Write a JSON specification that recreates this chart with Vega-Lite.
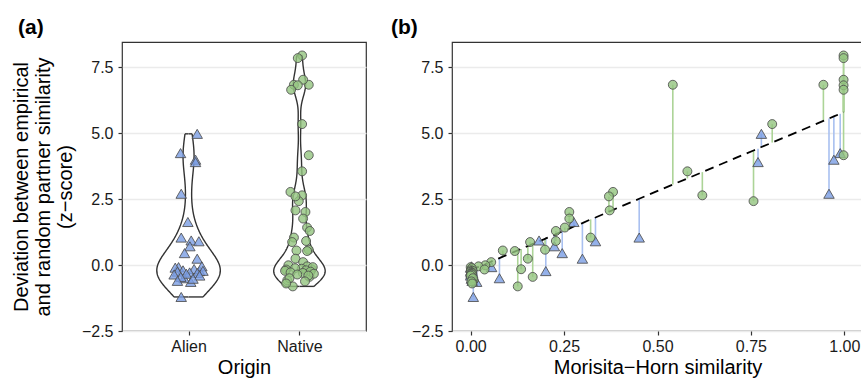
{
  "$schema": "https://vega.github.io/schema/vega-lite/v6.json",
  "autosize": {"type": "none"},
  "padding": {"left": 122, "top": 42, "right": 739, "bottom": 336},
  "background": "white",
  "config": {
    "font": "Liberation Sans",
    "view": {"stroke": "#333333", "strokeWidth": 1.2},
    "axis": {"labelFont": "Liberation Sans", "labelFontSize": 16, "labelColor": "#1a1a1a", "titleFont": "Liberation Sans", "titleFontSize": 20, "titleFontWeight": "normal", "titleColor": "#000000", "tickColor": "#333333", "tickSize": 4, "tickWidth": 1.2, "domain": false, "grid": false},
    "axisY": {"grid": true, "gridColor": "#ebebeb", "gridWidth": 1.4, "labelPadding": 5},
    "axisX": {"labelPadding": 3.5},
    "title": {"font": "Liberation Sans", "fontSize": 21, "fontWeight": "bold", "color": "#000000", "anchor": "start", "frame": "group", "baseline": "alphabetic", "offset": 4}
  },
  "datasets": {
    "pts": [
      {"o": "Alien", "mh": 0.778, "z": 4.97, "fit": 4.47, "j": 0.078},
      {"o": "Alien", "mh": 0.989, "z": 4.24, "fit": 5.73, "j": -0.072},
      {"o": "Alien", "mh": 0.972, "z": 3.99, "fit": 5.63, "j": 0.063},
      {"o": "Alien", "mh": 0.769, "z": 3.90, "fit": 4.41, "j": 0.063},
      {"o": "Alien", "mh": 0.959, "z": 2.70, "fit": 5.55, "j": -0.066},
      {"o": "Alien", "mh": 0.276, "z": 1.63, "fit": 1.46, "j": -0.006},
      {"o": "Alien", "mh": 0.451, "z": 1.04, "fit": 2.51, "j": -0.066},
      {"o": "Alien", "mh": 0.183, "z": 0.93, "fit": 0.90, "j": 0.024},
      {"o": "Alien", "mh": 0.334, "z": 0.90, "fit": 1.80, "j": 0.093},
      {"o": "Alien", "mh": 0.224, "z": 0.71, "fit": 1.14, "j": 0.012},
      {"o": "Alien", "mh": 0.245, "z": 0.45, "fit": 1.27, "j": -0.036},
      {"o": "Alien", "mh": 0.299, "z": 0.24, "fit": 1.59, "j": 0.078},
      {"o": "Alien", "mh": 0.056, "z": -0.08, "fit": 0.14, "j": -0.09},
      {"o": "Alien", "mh": 0.201, "z": -0.23, "fit": 1.01, "j": 0.10},
      {"o": "Alien", "mh": 0.077, "z": -0.50, "fit": 0.26, "j": -0.04},
      {"o": "Alien", "mh": 0.016, "z": -0.64, "fit": -0.10, "j": 0.02},
      {"o": "Alien", "mh": 0.007, "z": -1.21, "fit": -0.16, "j": -0.066},
      {"o": "Alien", "mh": 0.002, "z": -0.05, "fit": -0.19, "j": 0.12},
      {"o": "Alien", "mh": 0.000, "z": -0.10, "fit": -0.20, "j": -0.12},
      {"o": "Alien", "mh": 0.003, "z": -0.15, "fit": -0.18, "j": 0.05},
      {"o": "Alien", "mh": 0.001, "z": -0.20, "fit": -0.19, "j": -0.05},
      {"o": "Alien", "mh": 0.004, "z": -0.22, "fit": -0.18, "j": 0.13},
      {"o": "Alien", "mh": 0.000, "z": -0.25, "fit": -0.20, "j": -0.10},
      {"o": "Alien", "mh": 0.002, "z": -0.28, "fit": -0.19, "j": 0.01},
      {"o": "Alien", "mh": 0.005, "z": -0.30, "fit": -0.17, "j": 0.08},
      {"o": "Alien", "mh": 0.001, "z": -0.33, "fit": -0.19, "j": -0.02},
      {"o": "Alien", "mh": 0.003, "z": -0.36, "fit": -0.18, "j": -0.13},
      {"o": "Alien", "mh": 0.000, "z": -0.40, "fit": -0.20, "j": 0.10},
      {"o": "Alien", "mh": 0.006, "z": -0.45, "fit": -0.16, "j": -0.07},
      {"o": "Alien", "mh": 0.002, "z": -0.52, "fit": -0.19, "j": 0.04},
      {"o": "Alien", "mh": 0.004, "z": -0.60, "fit": -0.18, "j": -0.10},
      {"o": "Native", "mh": 0.541, "z": 6.83, "fit": 3.05, "j": -0.05},
      {"o": "Native", "mh": 0.580, "z": 3.55, "fit": 3.28, "j": 0.024},
      {"o": "Native", "mh": 0.620, "z": 2.64, "fit": 3.52, "j": 0.024},
      {"o": "Native", "mh": 0.757, "z": 2.42, "fit": 4.34, "j": -0.006},
      {"o": "Native", "mh": 0.807, "z": 5.34, "fit": 4.64, "j": 0.024},
      {"o": "Native", "mh": 0.944, "z": 6.83, "fit": 5.46, "j": 0.084},
      {"o": "Native", "mh": 0.998, "z": 7.94, "fit": 5.79, "j": 0.024},
      {"o": "Native", "mh": 0.998, "z": 7.84, "fit": 5.79, "j": -0.015},
      {"o": "Native", "mh": 0.998, "z": 7.02, "fit": 5.79, "j": 0.033},
      {"o": "Native", "mh": 0.998, "z": 6.81, "fit": 5.79, "j": -0.015},
      {"o": "Native", "mh": 0.998, "z": 6.64, "fit": 5.79, "j": -0.075},
      {"o": "Native", "mh": 0.998, "z": 4.16, "fit": 5.79, "j": 0.084},
      {"o": "Native", "mh": 0.381, "z": 2.77, "fit": 2.09, "j": -0.081},
      {"o": "Native", "mh": 0.370, "z": 2.60, "fit": 2.02, "j": -0.036},
      {"o": "Native", "mh": 0.372, "z": 2.07, "fit": 2.03, "j": -0.036},
      {"o": "Native", "mh": 0.264, "z": 2.01, "fit": 1.38, "j": 0.054},
      {"o": "Native", "mh": 0.264, "z": 1.76, "fit": 1.38, "j": 0.033},
      {"o": "Native", "mh": 0.252, "z": 1.42, "fit": 1.31, "j": 0.069},
      {"o": "Native", "mh": 0.228, "z": 1.29, "fit": 1.17, "j": 0.093},
      {"o": "Native", "mh": 0.228, "z": 0.91, "fit": 1.17, "j": 0.06},
      {"o": "Native", "mh": 0.199, "z": 0.58, "fit": 0.99, "j": 0.084},
      {"o": "Native", "mh": 0.321, "z": 1.04, "fit": 1.73, "j": -0.05},
      {"o": "Native", "mh": 0.159, "z": 0.87, "fit": 0.75, "j": -0.066},
      {"o": "Native", "mh": 0.086, "z": 0.55, "fit": 0.32, "j": -0.027},
      {"o": "Native", "mh": 0.118, "z": 0.53, "fit": 0.51, "j": 0.069},
      {"o": "Native", "mh": 0.153, "z": 0.24, "fit": 0.72, "j": -0.036},
      {"o": "Native", "mh": 0.135, "z": -0.16, "fit": 0.61, "j": 0.11},
      {"o": "Native", "mh": 0.126, "z": -0.81, "fit": 0.56, "j": -0.06},
      {"o": "Native", "mh": 0.166, "z": -0.45, "fit": 0.80, "j": 0.09},
      {"o": "Native", "mh": 0.055, "z": 0.11, "fit": 0.13, "j": 0.033},
      {"o": "Native", "mh": 0.039, "z": -0.01, "fit": 0.03, "j": -0.10},
      {"o": "Native", "mh": 0.021, "z": -0.05, "fit": -0.07, "j": 0.07},
      {"o": "Native", "mh": 0.037, "z": -0.17, "fit": 0.02, "j": -0.12},
      {"o": "Native", "mh": 0.002, "z": -0.14, "fit": -0.19, "j": 0.02},
      {"o": "Native", "mh": 0.008, "z": -0.58, "fit": -0.15, "j": -0.11},
      {"o": "Native", "mh": 0.000, "z": -0.08, "fit": -0.20, "j": 0.12},
      {"o": "Native", "mh": 0.003, "z": -0.12, "fit": -0.18, "j": -0.04},
      {"o": "Native", "mh": 0.001, "z": -0.20, "fit": -0.19, "j": 0.06},
      {"o": "Native", "mh": 0.005, "z": -0.22, "fit": -0.17, "j": -0.13},
      {"o": "Native", "mh": 0.000, "z": -0.25, "fit": -0.20, "j": 0.10},
      {"o": "Native", "mh": 0.002, "z": -0.28, "fit": -0.19, "j": -0.08},
      {"o": "Native", "mh": 0.004, "z": -0.30, "fit": -0.18, "j": 0.03},
      {"o": "Native", "mh": 0.001, "z": -0.33, "fit": -0.19, "j": 0.13},
      {"o": "Native", "mh": 0.003, "z": -0.36, "fit": -0.18, "j": -0.02},
      {"o": "Native", "mh": 0.000, "z": -0.40, "fit": -0.20, "j": 0.08},
      {"o": "Native", "mh": 0.006, "z": -0.50, "fit": -0.16, "j": -0.09},
      {"o": "Native", "mh": 0.002, "z": -0.62, "fit": -0.19, "j": 0.05},
      {"o": "Native", "mh": 0.004, "z": -0.70, "fit": -0.18, "j": -0.12}
    ]
  },
  "spacing": 86,
  "bounds": "flush",
  "hconcat": [
    {
      "width": 244,
      "height": 289,
      "title": {"text": "(a)", "dx": -104},
      "data": {"name": "pts"},
      "encoding": {
        "y": {"field": "z", "type": "quantitative", "scale": {"domain": [-2.5, 8.45], "nice": false, "zero": false},
          "axis": {"values": [-2.5, 0, 2.5, 5, 7.5], "format": ".1f", "title": ["Deviation between empirical", "and random partner similarity", "(z−score)"], "titleX": -94.5, "titleBaseline": "alphabetic", "titleLineHeight": 22}}
      },
      "layer": [
        {
          "transform": [{"filter": "datum.o === 'Alien'"}, {"density": "z", "bandwidth": 0.7, "extent": [-1.21, 4.97], "steps": 200, "as": ["z", "density"]}],
          "layer": [
            {"mark": {"type": "area", "orient": "horizontal", "fill": "white"}, "encoding": {"x": {"field": "density", "type": "quantitative", "scale": {"domain": [-0.7829, 2.0876], "nice": false, "zero": false}, "axis": null}, "x2": {"datum": 0}}},
            {"mark": {"type": "line", "color": "#333333", "strokeWidth": 1.4}, "encoding": {"x": {"field": "density", "type": "quantitative"}, "order": {"field": "z", "type": "quantitative"}}},
            {"transform": [{"joinaggregate": [{"op": "min", "field": "z", "as": "zmin"}, {"op": "max", "field": "z", "as": "zmax"}]}, {"filter": "datum.z === datum.zmin || datum.z === datum.zmax"}],
             "mark": {"type": "rule", "color": "#333333", "strokeWidth": 1.4}, "encoding": {"x": {"field": "density", "type": "quantitative"}, "x2": {"datum": 0}}}
          ]
        },
        {
          "transform": [{"filter": "datum.o === 'Alien'"}, {"density": "z", "bandwidth": 0.7, "extent": [-1.21, 4.97], "steps": 200, "as": ["z", "density"]}],
          "layer": [
            {"mark": {"type": "area", "orient": "horizontal", "fill": "white"}, "encoding": {"x": {"field": "density", "type": "quantitative", "scale": {"domain": [-2.0876, 0.7829], "reverse": true, "nice": false, "zero": false}, "axis": null}, "x2": {"datum": 0}}},
            {"mark": {"type": "line", "color": "#333333", "strokeWidth": 1.4}, "encoding": {"x": {"field": "density", "type": "quantitative"}, "order": {"field": "z", "type": "quantitative"}}},
            {"transform": [{"joinaggregate": [{"op": "min", "field": "z", "as": "zmin"}, {"op": "max", "field": "z", "as": "zmax"}]}, {"filter": "datum.z === datum.zmin || datum.z === datum.zmax"}],
             "mark": {"type": "rule", "color": "#333333", "strokeWidth": 1.4}, "encoding": {"x": {"field": "density", "type": "quantitative"}, "x2": {"datum": 0}}}
          ]
        },
        {
          "transform": [{"filter": "datum.o === 'Native'"}, {"density": "z", "bandwidth": 0.45, "extent": [-0.81, 7.94], "steps": 200, "as": ["z", "density"]}],
          "layer": [
            {"mark": {"type": "area", "orient": "horizontal", "fill": "white"}, "encoding": {"x": {"field": "density", "type": "quantitative", "scale": {"domain": [-2.6485, 0.9933], "nice": false, "zero": false}, "axis": null}, "x2": {"datum": 0}}},
            {"mark": {"type": "line", "color": "#333333", "strokeWidth": 1.4}, "encoding": {"x": {"field": "density", "type": "quantitative"}, "order": {"field": "z", "type": "quantitative"}}},
            {"transform": [{"joinaggregate": [{"op": "min", "field": "z", "as": "zmin"}, {"op": "max", "field": "z", "as": "zmax"}]}, {"filter": "datum.z === datum.zmin || datum.z === datum.zmax"}],
             "mark": {"type": "rule", "color": "#333333", "strokeWidth": 1.4}, "encoding": {"x": {"field": "density", "type": "quantitative"}, "x2": {"datum": 0}}}
          ]
        },
        {
          "transform": [{"filter": "datum.o === 'Native'"}, {"density": "z", "bandwidth": 0.45, "extent": [-0.81, 7.94], "steps": 200, "as": ["z", "density"]}],
          "layer": [
            {"mark": {"type": "area", "orient": "horizontal", "fill": "white"}, "encoding": {"x": {"field": "density", "type": "quantitative", "scale": {"domain": [-0.9933, 2.6485], "reverse": true, "nice": false, "zero": false}, "axis": null}, "x2": {"datum": 0}}},
            {"mark": {"type": "line", "color": "#333333", "strokeWidth": 1.4}, "encoding": {"x": {"field": "density", "type": "quantitative"}, "order": {"field": "z", "type": "quantitative"}}},
            {"transform": [{"joinaggregate": [{"op": "min", "field": "z", "as": "zmin"}, {"op": "max", "field": "z", "as": "zmax"}]}, {"filter": "datum.z === datum.zmin || datum.z === datum.zmax"}],
             "mark": {"type": "rule", "color": "#333333", "strokeWidth": 1.4}, "encoding": {"x": {"field": "density", "type": "quantitative"}, "x2": {"datum": 0}}}
          ]
        },
        {
          "mark": {"type": "point", "filled": true, "stroke": "#4d4d4d", "strokeWidth": 1, "fillOpacity": 0.8, "strokeOpacity": 0.85},
          "encoding": {
            "x": {"field": "o", "type": "nominal", "scale": {"type": "point", "padding": 0.6, "domain": ["Alien", "Native"]}, "axis": {"orient": "bottom", "title": "Origin", "labelAngle": 0, "titleY": 42.5, "titleBaseline": "alphabetic"}},
            "xOffset": {"field": "j", "type": "quantitative", "scale": {"domain": [-1, 1], "range": [-110.9, 110.9]}},
            "shape": {"field": "o", "type": "nominal", "scale": {"domain": ["Alien", "Native"], "range": ["triangle-up", "circle"]}, "legend": null},
            "size": {"field": "o", "type": "nominal", "scale": {"domain": ["Alien", "Native"], "range": [110, 80]}, "legend": null},
            "fill": {"field": "o", "type": "nominal", "scale": {"domain": ["Alien", "Native"], "range": ["#7b9ee3", "#93c47f"]}, "legend": null}
          }
        }
      ],
      "resolve": {"scale": {"x": "independent"}}
    },
    {
      "width": 411,
      "height": 289,
      "title": {"text": "(b)", "dx": -61},
      "data": {"name": "pts"},
      "encoding": {
        "x": {"field": "mh", "type": "quantitative", "scale": {"domain": [-0.05, 1.05], "nice": false, "zero": false},
          "axis": {"values": [0, 0.25, 0.5, 0.75, 1], "format": ".2f", "title": "Morisita−Horn similarity", "titleY": 42.5, "titleBaseline": "alphabetic"}},
        "y": {"field": "z", "type": "quantitative", "scale": {"domain": [-2.5, 8.45], "nice": false, "zero": false},
          "axis": {"values": [-2.5, 0, 2.5, 5, 7.5], "format": ".1f", "title": null}}
      },
      "layer": [
        {
          "mark": {"type": "rule", "strokeWidth": 1.6},
          "encoding": {
            "y2": {"field": "fit"},
            "stroke": {"field": "o", "type": "nominal", "scale": {"domain": ["Alien", "Native"], "range": ["#a9c0f0", "#acd497"]}, "legend": null}
          }
        },
        {
          "mark": {"type": "line", "color": "#000000", "strokeDash": [9, 6], "strokeWidth": 1.8},
          "encoding": {
            "y": {"field": "fit", "type": "quantitative", "scale": {"domain": [-2.5, 8.45], "nice": false, "zero": false},
              "axis": {"values": [-2.5, 0, 2.5, 5, 7.5], "format": ".1f", "title": null}}
          }
        },
        {
          "mark": {"type": "point", "filled": true, "stroke": "#4d4d4d", "strokeWidth": 1, "fillOpacity": 0.8, "strokeOpacity": 0.85},
          "encoding": {
            "shape": {"field": "o", "type": "nominal", "scale": {"domain": ["Alien", "Native"], "range": ["triangle-up", "circle"]}, "legend": null},
            "size": {"field": "o", "type": "nominal", "scale": {"domain": ["Alien", "Native"], "range": [110, 80]}, "legend": null},
            "fill": {"field": "o", "type": "nominal", "scale": {"domain": ["Alien", "Native"], "range": ["#7b9ee3", "#93c47f"]}, "legend": null}
          }
        }
      ]
    }
  ]
}
